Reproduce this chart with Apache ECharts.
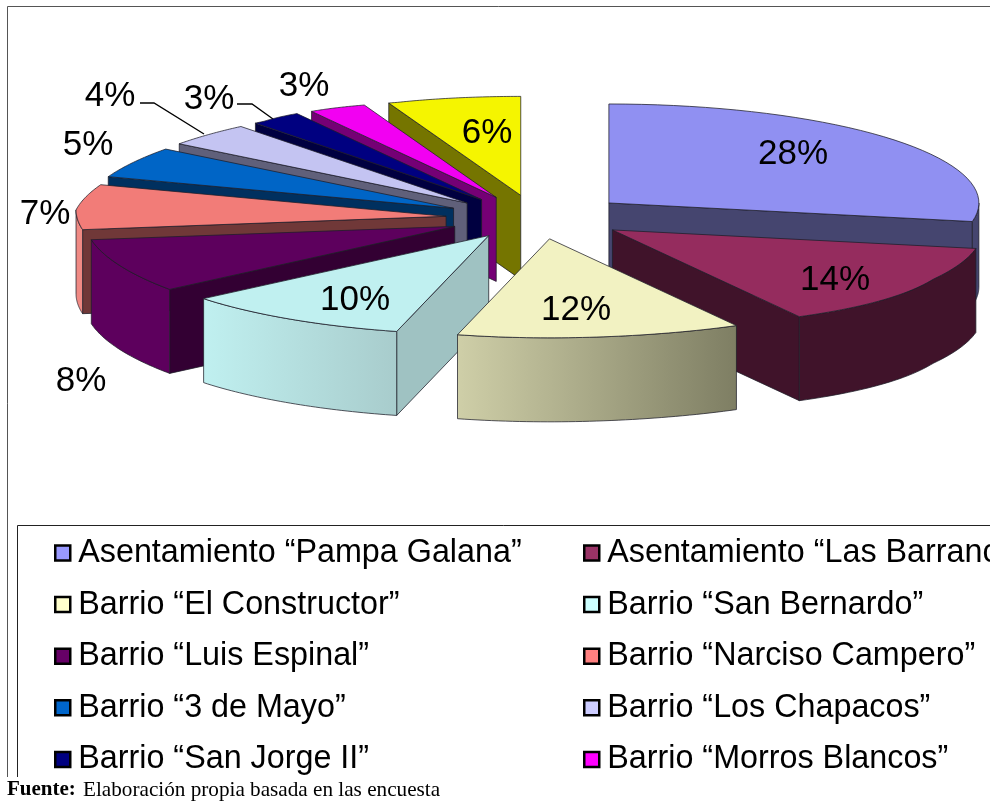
<!DOCTYPE html>
<html><head><meta charset="utf-8">
<style>html,body{margin:0;padding:0;background:#fff;overflow:hidden}#c{width:990px;height:801px}</style>
<script src="https://cdn.jsdelivr.net/npm/echarts@6/dist/echarts.min.js"></script>
</head><body><div id="c"></div>
<script>
// Data, clockwise from twelve o'clock
const categories = ['Asentamiento “Pampa Galana”','Asentamiento “Las Barrancas”','Barrio “El Constructor”','Barrio “San Bernardo”','Barrio “Luis Espinal”','Barrio “Narciso Campero”','Barrio “3 de Mayo”','Barrio “Los Chapacos”','Barrio “San Jorge II”','Barrio “Morros Blancos”','Otros'];
const values = [28,14,12,10,8,7,5,4,3,3,6];
const legendLeft = [0,2,4,6,8].map(i=>categories[i]);
const legendRight = [1,3,5,7,9].map(i=>categories[i]);
const footnoteBold = 'Fuente:';
const footnoteText = 'Elaboración propia basada en las encuesta';

// Styles
const topColors  = ['#9090f2','#952c5e','#f2f2c2','#c0f0f0','#5d005d','#f27c78','#0065c6','#c4c4f2','#000080','#f200f2','#f5f500'];
const wallColors = ['#45456f','#40132a','#8a8a6c','#9fc2c2','#330033','#703838','#00305f','#60607a','#000040','#750075','#757500'];
const rimColors  = [['#45456f','#45456f'],['#40132a','#40132a'],['#cfcfa8','#7e7e63'],['#c0f0f0','#a8cccc'],['#5d005d','#5d005d'],['#f08a84','#f08a84'],['#00305f','#00305f'],['#60607a','#60607a'],['#000040','#000040'],['#750075','#750075'],['#757500','#757500']];
const legendColors = ['#9999ff','#993366','#ffffcc','#ccffff','#660066','#ff8080','#0066cc','#ccccff','#000080','#ff00ff','#ffff00'];
const paintOrder = [0,1,10,9,8,7,6,5,4,3,2];
const labelPos = [[793,152],[835,278],[576,308],[355,298],[81,379],[45,212],[88,143],[110,94],[209,97],[304,84],[487,131]];

// Projection of the tilted pie
const CX=538, CY=217, RX=370, RY=99, DEPTH=84, EX=92, EY=22;
const DEG=Math.PI/180;
const total = values.reduce((a,b)=>a+b,0);
const starts = []; values.reduce((a,v,i)=>{starts[i]=a;return a+v;},0);
const rad = v => v/total*2*Math.PI;
// Perspective corrections of the rim
function rimX(a){
  const bulge=(a>120*DEG&&a<180*DEG)?18*Math.cos(3*(a-150*DEG)):0;
  let f=0;
  if(Math.sin(a)<0){
    const c=Math.cos(a);
    f = c<=0 ? 0 : c<=0.75 ? 0.11*c/0.75 : 0.11*(1-(c-0.75)/0.25);
  }
  return RX*(1-f)+bulge;
}
function rimLift(a){
  return (a>230*DEG&&a<340*DEG)?7*Math.sin(Math.PI*(a-230*DEG)/(110*DEG)):0;
}

function sliceItem(i){
  return function(params, api){
    const v = api.value(0);
    const a0 = rad(starts[i]), a1 = a0 + rad(v), mid=(a0+a1)/2;
    const ox = CX+EX*Math.sin(mid), oy = CY-EY*Math.cos(mid);
    const pt = (a,d=0)=>[ox+rimX(a)*Math.sin(a), oy-RY*Math.cos(a)-rimLift(a)+d];
    const apex=[ox,oy], apexB=[ox,oy+DEPTH];
    const stroke='rgba(30,30,40,0.75)';
    const kids=[];
    const poly=(points,fill)=>kids.push({type:'polygon',shape:{points},style:{fill,stroke,lineWidth:1}});
    if(Math.sin(a0)<0) poly([apex,pt(a0),pt(a0,DEPTH),apexB],wallColors[i]);
    if(Math.sin(a1)>0) poly([apex,pt(a1),pt(a1,DEPTH),apexB],wallColors[i]);
    const lo=Math.max(a0,Math.PI/2), hi=Math.min(a1,Math.PI*1.5);
    if(hi>lo){
      const up=[],dn=[];
      for(let k=0;k<=40;k++){const a=lo+(hi-lo)*k/40; up.push(pt(a)); dn.unshift(pt(a,DEPTH));}
      poly(up.concat(dn),{type:'linear',x:0,y:0,x2:1,y2:0,colorStops:[{offset:0,color:rimColors[i][0]},{offset:1,color:rimColors[i][1]}]});
    }
    const t=[apex];
    for(let k=0;k<=40;k++) t.push(pt(a0+(a1-a0)*k/40));
    poly(t,topColors[i]);
    kids.push({type:'text',z2:50,style:{x:labelPos[i][0],y:labelPos[i][1]+2,text:v+'%',fontFamily:'Liberation Sans',fontSize:35,fill:'#000',align:'center',verticalAlign:'middle'}});
    return {type:'group',children:kids};
  };
}

const series = paintOrder.map(i=>({
  type:'custom',name:categories[i],coordinateSystem:'none',silent:true,animation:false,
  itemStyle:{color:legendColors[i]},
  data:[[values[i]]],renderItem:sliceItem(i)
}));

const legendBase={orient:'vertical',icon:'rect',itemWidth:15,itemHeight:15,itemGap:19.6,padding:0,selectedMode:false,
  itemStyle:{borderColor:'#000',borderWidth:2.5},
  textStyle:{fontFamily:'Liberation Sans',fontSize:32.3,color:'#000',lineHeight:32,padding:[0,0,0,3]}};

const line=(pts,stroke,lw)=>({type:'polyline',silent:true,shape:{points:pts},style:{stroke,lineWidth:lw,fill:'none'}});
const chart=echarts.init(document.getElementById('c'),null,{renderer:'canvas'});
chart.setOption({
  backgroundColor:'#fff',animation:false,
  legend:[Object.assign({},legendBase,{left:54,top:537,data:legendLeft}),Object.assign({},legendBase,{left:583,top:537,data:legendRight})],
  series,
  graphic:[
    line([[7.5,800],[7.5,6.5],[990,6.5]],'#555',1),
    line([[17.5,800],[17.5,525.5],[990,525.5]],'#222',1),
    {type:'rect',silent:true,z:90,shape:{x:0,y:777,width:990,height:24},style:{fill:'#fff'}},
    {type:'text',silent:true,z:91,style:{x:7,y:790,text:footnoteBold,fontFamily:'Liberation Serif',fontWeight:'bold',fontSize:21,fill:'#000',verticalAlign:'middle'}},
    {type:'text',silent:true,z:91,style:{x:83,y:790,text:footnoteText,fontFamily:'Liberation Serif',fontSize:21.2,fill:'#000',verticalAlign:'middle'}},
    line([[140,103],[154,103],[204,134]],'#000',1.3),
    line([[237,104],[252,104],[273,119]],'#000',1.3)
  ]
});
</script></body></html>
